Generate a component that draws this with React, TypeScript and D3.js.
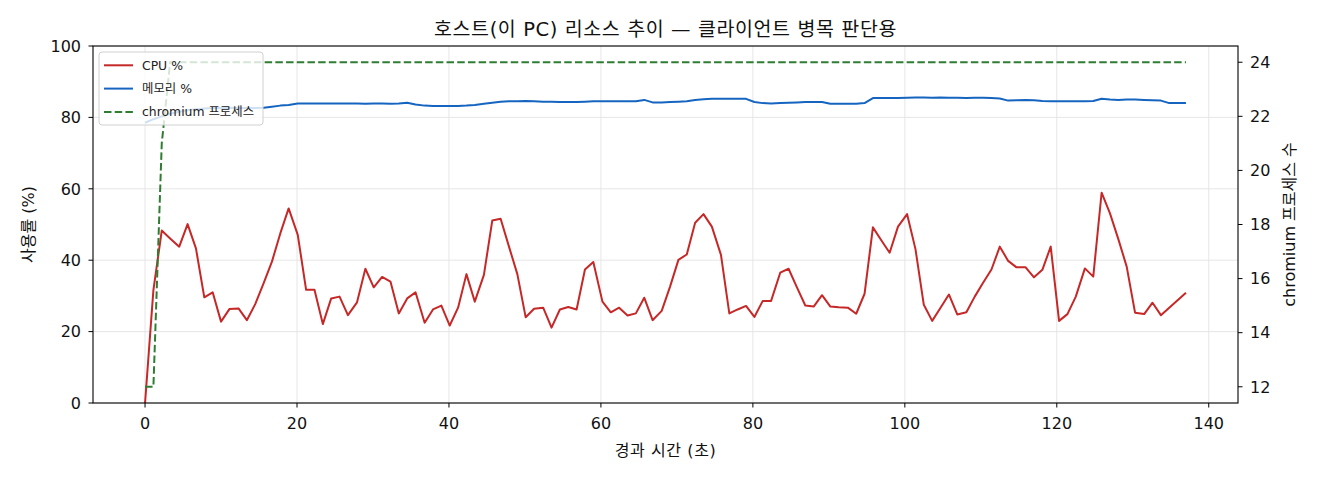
import React, { useEffect } from 'react';
import * as d3 from 'd3';

// sample times (s)
const elapsed = [
  0, 1.1, 2.2, 3.3, 4.5, 5.6, 6.7, 7.8, 8.9, 10.0, 11.1, 12.3, 13.4, 14.5, 15.6, 16.7, 17.8, 18.9, 20.1, 21.2,
  22.3, 23.4, 24.5, 25.6, 26.7, 27.9, 29.0, 30.1, 31.2, 32.3, 33.4, 34.5, 35.6, 36.8, 37.9, 39.0, 40.1, 41.2, 42.3, 43.4,
  44.6, 45.7, 46.8, 47.9, 49.0, 50.1, 51.2, 52.4, 53.5, 54.6, 55.7, 56.8, 57.9, 59.0, 60.2, 61.3, 62.4, 63.5, 64.6, 65.7,
  66.8, 68.0, 69.1, 70.2, 71.3, 72.4, 73.5, 74.6, 75.8, 76.9, 78.0, 79.1, 80.2, 81.3, 82.4, 83.6, 84.7, 85.8, 86.9, 88.0,
  89.1, 90.2, 91.3, 92.5, 93.6, 94.7, 95.8, 96.9, 98.0, 99.1, 100.3, 101.4, 102.5, 103.6, 104.7, 105.8, 106.9, 108.1, 109.2, 110.3,
  111.4, 112.5, 113.6, 114.7, 115.9, 117.0, 118.1, 119.2, 120.3, 121.4, 122.5, 123.7, 124.8, 125.9, 127.0, 128.1, 129.2, 130.3, 131.5, 132.6,
  133.7, 134.8, 135.9, 137.0,
];

const cpuPct = [
  0, 31.6, 48.3, 46.1, 43.8, 50.1, 43.3, 29.6, 31.0, 22.8, 26.3, 26.5, 23.2, 27.7, 33.5, 39.6, 47.5, 54.5, 47.1, 31.7,
  31.7, 22.1, 29.3, 29.8, 24.6, 28.2, 37.6, 32.4, 35.3, 34.0, 25.1, 29.3, 31.0, 22.5, 26.2, 27.3, 21.7, 26.7, 36.1, 28.4,
  35.9, 51.1, 51.6, 43.8, 36.1, 24.0, 26.4, 26.7, 21.1, 26.2, 26.9, 26.2, 37.4, 39.5, 28.4, 25.4, 26.7, 24.5, 25.1, 29.5,
  23.2, 25.8, 32.6, 40.1, 41.6, 50.5, 52.9, 49.4, 41.5, 25.1, 26.2, 27.2, 24.1, 28.6, 28.6, 36.5, 37.6, 32.4, 27.3, 27.0,
  30.2, 27.0, 26.8, 26.7, 25.0, 30.6, 49.2, 45.6, 42.1, 49.4, 52.9, 43.1, 27.5, 23.0, 26.7, 30.4, 24.8, 25.4, 29.8, 33.7,
  37.4, 43.8, 39.8, 38.0, 38.0, 35.2, 37.3, 43.8, 23.0, 24.9, 29.8, 37.7, 35.4, 58.9, 53.1, 45.9, 38.2, 25.3, 24.9, 28.1,
  24.6, 26.7, 28.8, 30.9,
];

const memPct = [
  78.5, 79.5, 80.3, 81.0, 81.6, 82.0, 82.3, 82.5, 82.6, 82.6, 82.7, 82.6, 82.6, 82.6, 82.7, 83.0, 83.3, 83.5, 83.9, 83.9,
  83.9, 83.9, 83.9, 83.9, 83.9, 83.9, 83.8, 83.9, 83.9, 83.8, 83.9, 84.1, 83.6, 83.3, 83.2, 83.2, 83.2, 83.2, 83.3, 83.5,
  83.8, 84.1, 84.4, 84.5, 84.5, 84.6, 84.5, 84.4, 84.4, 84.3, 84.3, 84.3, 84.4, 84.5, 84.5, 84.5, 84.5, 84.5, 84.5, 84.9,
  84.2, 84.2, 84.3, 84.4, 84.5, 84.9, 85.1, 85.2, 85.2, 85.2, 85.2, 85.2, 84.3, 84.0, 83.9, 84.0, 84.1, 84.2, 84.3, 84.3,
  84.3, 83.8, 83.8, 83.8, 83.8, 84.0, 85.4, 85.4, 85.4, 85.4, 85.5, 85.6, 85.6, 85.5, 85.6, 85.5, 85.5, 85.4, 85.5, 85.5,
  85.4, 85.3, 84.7, 84.8, 84.9, 84.8, 84.6, 84.5, 84.5, 84.5, 84.5, 84.5, 84.6, 85.2, 85.0, 84.9, 85.0, 85.0, 84.9, 84.8,
  84.7, 84.0, 84.0, 84.0,
];

const chromiumCount = [
  12, 12, 21, 24, 24, 24, 24, 24, 24, 24, 24, 24, 24, 24, 24, 24, 24, 24, 24, 24,
  24, 24, 24, 24, 24, 24, 24, 24, 24, 24, 24, 24, 24, 24, 24, 24, 24, 24, 24, 24,
  24, 24, 24, 24, 24, 24, 24, 24, 24, 24, 24, 24, 24, 24, 24, 24, 24, 24, 24, 24,
  24, 24, 24, 24, 24, 24, 24, 24, 24, 24, 24, 24, 24, 24, 24, 24, 24, 24, 24, 24,
  24, 24, 24, 24, 24, 24, 24, 24, 24, 24, 24, 24, 24, 24, 24, 24, 24, 24, 24, 24,
  24, 24, 24, 24, 24, 24, 24, 24, 24, 24, 24, 24, 24, 24, 24, 24, 24, 24, 24, 24,
  24, 24, 24, 24,
];

const xTicks = [0, 20, 40, 60, 80, 100, 120, 140];
const leftTicks = [0, 20, 40, 60, 80, 100];
const rightTicks = [12, 14, 16, 18, 20, 22, 24];

const legendItems = [
  { label: 'CPU %', color: '#c62828', dash: '' },
  { label: '메모리 %', color: '#1565c0', dash: '' },
  { label: 'chromium 프로세스', color: '#2e7d32', dash: '7.5,3.2' },
];

const FONT = '"DejaVu Sans", "Noto Sans CJK KR", sans-serif';
const TICK = 16;

const App: React.FC = () => {
  useEffect(() => {
    document.body.style.margin = '0';
  }, []);

  const width = 1320;
  const height = 480;
  const m = { left: 93, right: 82, top: 46, bottom: 77 };
  const innerW = width - m.left - m.right;
  const innerH = height - m.top - m.bottom;

  const x = d3.scaleLinear().domain([-6.85, 143.85]).range([0, innerW]);
  const yL = d3.scaleLinear().domain([0, 100]).range([innerH, 0]);
  const yR = d3.scaleLinear().domain([11.4, 24.6]).range([innerH, 0]);

  const idx = d3.range(elapsed.length);
  const lineL = (vals: number[]) =>
    d3.line<number>().x(i => x(elapsed[i])).y(i => yL(vals[i]))(idx) || '';
  const lineR = d3.line<number>().x(i => x(elapsed[i])).y(i => yR(chromiumCount[i]))(idx) || '';

  return (
    <svg width={width} height={height} style={{ display: 'block', fontFamily: FONT }}>
      <rect width={width} height={height} fill="#fff" />
      <text x={m.left + innerW / 2} y={36} textAnchor="middle" fontSize={19.5} letterSpacing={0.6} fill="#111">
        호스트(이 PC) 리소스 추이 — 클라이언트 병목 판단용
      </text>
      <g transform={`translate(${m.left},${m.top})`}>
        {/* grid */}
        {xTicks.map(t => (
          <line key={'gx' + t} x1={x(t)} x2={x(t)} y1={0} y2={innerH} stroke="#e3e3e3" strokeWidth={0.9} />
        ))}
        {leftTicks.map(t => (
          <line key={'gy' + t} x1={0} x2={innerW} y1={yL(t)} y2={yL(t)} stroke="#e3e3e3" strokeWidth={0.9} />
        ))}

        <path d={lineL(cpuPct)} fill="none" stroke="#c62828" strokeWidth={2} strokeLinejoin="round" />
        <path d={lineL(memPct)} fill="none" stroke="#1565c0" strokeWidth={2} strokeLinejoin="round" />
        <path d={lineR} fill="none" stroke="#2e7d32" strokeWidth={2} strokeDasharray="7.5,3.2" />

        {/* frame */}
        <rect x={0} y={0} width={innerW} height={innerH} fill="none" stroke="#000" strokeWidth={1.1} />

        {/* x axis */}
        {xTicks.map(t => (
          <g key={'xt' + t} transform={`translate(${x(t)},${innerH})`}>
            <line y2={4.5} stroke="#000" strokeWidth={1} />
            <text y={26} textAnchor="middle" fontSize={TICK} fill="#111">{t}</text>
          </g>
        ))}
        <text x={innerW / 2} y={innerH + 53} textAnchor="middle" fontSize={TICK} letterSpacing={0.6} fill="#111">경과 시간 (초)</text>

        {/* left axis */}
        {leftTicks.map(t => (
          <g key={'yl' + t} transform={`translate(0,${yL(t)})`}>
            <line x2={-4.5} stroke="#000" strokeWidth={1} />
            <text x={-12} dy="0.36em" textAnchor="end" fontSize={TICK} fill="#111">{t}</text>
          </g>
        ))}
        <text transform={`translate(${-59},${innerH / 2}) rotate(-90)`} textAnchor="middle" fontSize={TICK} fill="#111">
          사용률 (%)
        </text>

        {/* right axis */}
        {rightTicks.map(t => (
          <g key={'yr' + t} transform={`translate(${innerW},${yR(t)})`}>
            <line x2={4.5} stroke="#000" strokeWidth={1} />
            <text x={12} dy="0.36em" textAnchor="start" fontSize={TICK} fill="#111">{t}</text>
          </g>
        ))}
        <text transform={`translate(${innerW + 57},${innerH / 2}) rotate(-90)`} textAnchor="middle" fontSize={TICK} fill="#111">
          chromium 프로세스 수
        </text>

        {/* legend */}
        <g transform="translate(6,6)">
          <rect x={0} y={0} width={164} height={73} rx={3} fill="#fff" fillOpacity={0.8} stroke="#d0d0d0" strokeWidth={1} />
          {legendItems.map((d, i) => (
            <g key={d.label} transform={`translate(0,${13.3 + i * 23.3})`}>
              <line x1={5} x2={34} stroke={d.color} strokeWidth={2} strokeDasharray={d.dash || undefined} />
              <text x={43} dy="0.36em" fontSize={12.4} fill="#222">{d.label}</text>
            </g>
          ))}
        </g>
      </g>
    </svg>
  );
};

export default App;
